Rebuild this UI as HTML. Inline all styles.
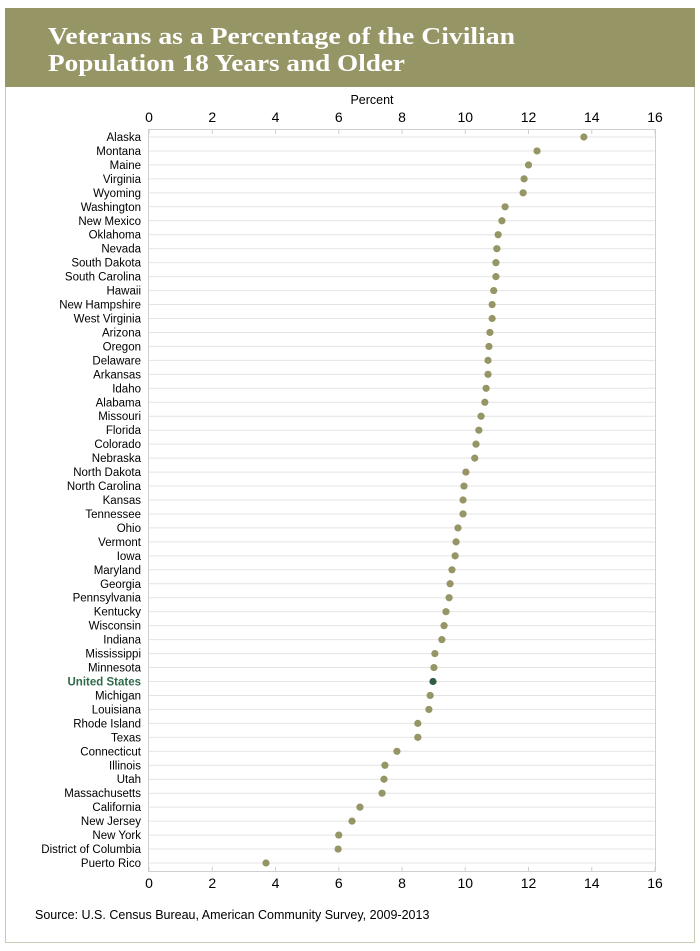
<!DOCTYPE html>
<html><head><meta charset="utf-8"><style>
body{margin:0;background:#fff;}
svg{display:block;}
text{font-family:"Liberation Sans Narrow","Liberation Sans",sans-serif;}
</style></head><body>
<svg width="700" height="951" xmlns="http://www.w3.org/2000/svg">
<rect x="5.5" y="8.5" width="689" height="934" fill="#fff" stroke="#c9c9b4" stroke-width="1"/>
<rect x="5" y="8" width="690" height="79" fill="#959565"/>
<text x="48" y="44" style="font-family:'Liberation Serif',serif" font-weight="bold" font-size="24" fill="#fff" textLength="467" lengthAdjust="spacingAndGlyphs">Veterans as a Percentage of the Civilian</text>
<text x="48" y="71" style="font-family:'Liberation Serif',serif" font-weight="bold" font-size="24" fill="#fff" textLength="357" lengthAdjust="spacingAndGlyphs">Population 18 Years and Older</text>
<text x="372" y="104" font-size="12.5" text-anchor="middle" fill="#000">Percent</text>
<text x="35" y="919" font-size="12.5" fill="#000">Source: U.S. Census Bureau, American Community Survey, 2009-2013</text>
</svg>
<script>
const d=[["Alaska",13.75],["Montana",12.27],["Maine",12.0],["Virginia",11.86],["Wyoming",11.83],["Washington",11.26],["New Mexico",11.16],["Oklahoma",11.04],["Nevada",11.0],["South Dakota",10.97],["South Carolina",10.97],["Hawaii",10.9],["New Hampshire",10.85],["West Virginia",10.85],["Arizona",10.78],["Oregon",10.75],["Delaware",10.72],["Arkansas",10.72],["Idaho",10.66],["Alabama",10.62],["Missouri",10.5],["Florida",10.43],["Colorado",10.34],["Nebraska",10.3],["North Dakota",10.02],["North Carolina",9.96],["Kansas",9.93],["Tennessee",9.93],["Ohio",9.77],["Vermont",9.71],["Iowa",9.68],["Maryland",9.58],["Georgia",9.52],["Pennsylvania",9.49],["Kentucky",9.39],["Wisconsin",9.33],["Indiana",9.26],["Mississippi",9.04],["Minnesota",9.01],["United States",8.98],["Michigan",8.89],["Louisiana",8.85],["Rhode Island",8.5],["Texas",8.5],["Connecticut",7.84],["Illinois",7.46],["Utah",7.43],["Massachusetts",7.37],["California",6.67],["New Jersey",6.42],["New York",6.0],["District of Columbia",5.98],["Puerto Rico",3.7]];
const NS="http://www.w3.org/2000/svg",svg=document.querySelector("svg");
function el(t,a,txt){const e=document.createElementNS(NS,t);for(const k in a)e.setAttribute(k,a[k]);if(txt!==undefined)e.textContent=txt;svg.insertBefore(e,svg.lastElementChild);return e;}
const X=v=>149+v*31.625, sp=(863-137)/52;
for(let i=0;i<d.length;i++){const y=137+i*sp;el("line",{x1:149,x2:655,y1:y,y2:y,stroke:"#e4e4e4","stroke-width":1});}
el("line",{x1:149,x2:655,y1:129.5,y2:129.5,stroke:"#cfcfcf"});
el("line",{x1:149,x2:655,y1:871.5,y2:871.5,stroke:"#cfcfcf"});
el("line",{x1:148.5,x2:148.5,y1:129,y2:872,stroke:"#cfcfcf"});
el("line",{x1:655.5,x2:655.5,y1:129,y2:872,stroke:"#cfcfcf"});
for(let v=0;v<=16;v+=2){const x=X(v);
el("line",{x1:x,x2:x,y1:129,y2:134,stroke:"#cfcfcf"});el("line",{x1:x,x2:x,y1:867,y2:872,stroke:"#cfcfcf"});
el("text",{x:x,y:122,"font-size":14,"text-anchor":"middle",fill:"#000"},v);
el("text",{x:x,y:888,"font-size":14,"text-anchor":"middle",fill:"#000"},v);}
d.forEach((r,i)=>{const y=137+i*sp;const us=r[0]=="United States";
el("text",{x:141,y:y+4,"font-size":11.5,"text-anchor":"end",fill:us?"#2e6a4a":"#000","font-weight":us?"bold":"normal"},r[0]);
el("circle",{cx:X(r[1]),cy:y,r:3.6,fill:us?"#2f5e45":"#959565"});});
</script>
</body></html>
